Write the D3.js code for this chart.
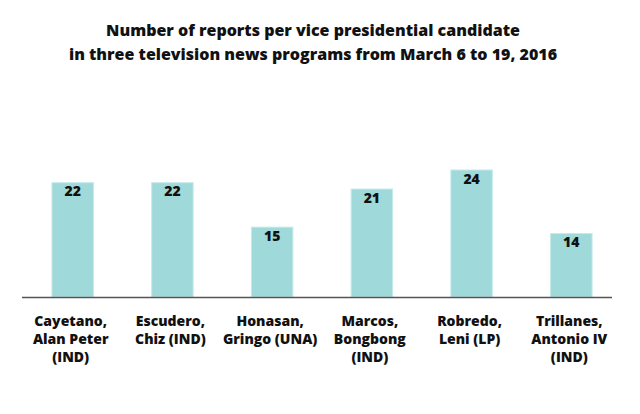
<!DOCTYPE html>
<html><head><meta charset="utf-8">
<script src="https://cdn.jsdelivr.net/npm/d3@7"></script>
<style>body{margin:0;background:#fff;} svg{display:block;}</style>
</head><body>
<svg id="c" width="640" height="414"></svg>
<script>
const titleLines = ["Number of reports per vice presidential candidate",
                    "in three television news programs from March 6 to 19, 2016"];
const candidates = ["Cayetano, Alan Peter (IND)", "Escudero, Chiz (IND)", "Honasan, Gringo (UNA)",
                    "Marcos, Bongbong (IND)", "Robredo, Leni (LP)", "Trillanes, Antonio IV (IND)"];
const labelLines = [["Cayetano,", "Alan Peter", "(IND)"], ["Escudero,", "Chiz (IND)"], ["Honasan,", "Gringo (UNA)"],
                    ["Marcos,", "Bongbong", "(IND)"], ["Robredo,", "Leni (LP)"], ["Trillanes,", "Antonio IV", "(IND)"]];
const reports = [22, 22, 15, 21, 24, 14];

const font = "'Open Sans', sans-serif";
const svg = d3.select("#c");
const axisLeft = 22, axisRight = 612, baseY = 297;

const x = d3.scaleBand().domain(candidates).range([32, 612]).paddingInner(0.584).paddingOuter(0.2);
const y = d3.scaleLinear().domain([4, 24]).range([baseY, 170]);

svg.append("g").selectAll("text").data(titleLines).join("text")
  .attr("x", 313).attr("y", (d, i) => 36 + i * 23.5)
  .attr("text-anchor", "middle")
  .style("font-family", font).style("font-weight", 800).style("font-size", "16px")
  .attr("fill", "#111").text(d => d);

svg.append("g").selectAll("rect").data(reports).join("rect")
  .attr("x", (d, i) => x(candidates[i]))
  .attr("width", x.bandwidth())
  .attr("y", d => y(d))
  .attr("height", d => baseY - y(d))
  .attr("fill", "#9fd9da").attr("stroke", "#c4eaea").attr("stroke-width", 1);

svg.append("line").attr("x1", axisLeft).attr("x2", axisRight).attr("y1", baseY + 0.5).attr("y2", baseY + 0.5)
  .attr("stroke", "#555").attr("stroke-width", 1.6);

svg.append("g").selectAll("text").data(reports).join("text")
  .attr("x", (d, i) => x(candidates[i]) + x.bandwidth() / 2)
  .attr("y", d => y(d) + 13.5)
  .attr("text-anchor", "middle")
  .style("font-family", font).style("font-weight", 800).style("font-size", "14px")
  .attr("fill", "#111").text(d => d);

const lg = svg.append("g");
candidates.forEach((c, i) => {
  const cx = x(c) + x.bandwidth() / 2 - 2;
  lg.append("text")
    .attr("x", cx)
    .attr("y", 326)
    .attr("text-anchor", "middle")
    .style("font-family", font).style("font-weight", 800).style("font-size", "14px")
    .attr("fill", "#111")
    .selectAll("tspan").data(labelLines[i]).join("tspan")
    .attr("x", cx)
    .attr("dy", (d, j) => j === 0 ? 0 : 18)
    .text(d => d);
});
</script>
</body></html>
